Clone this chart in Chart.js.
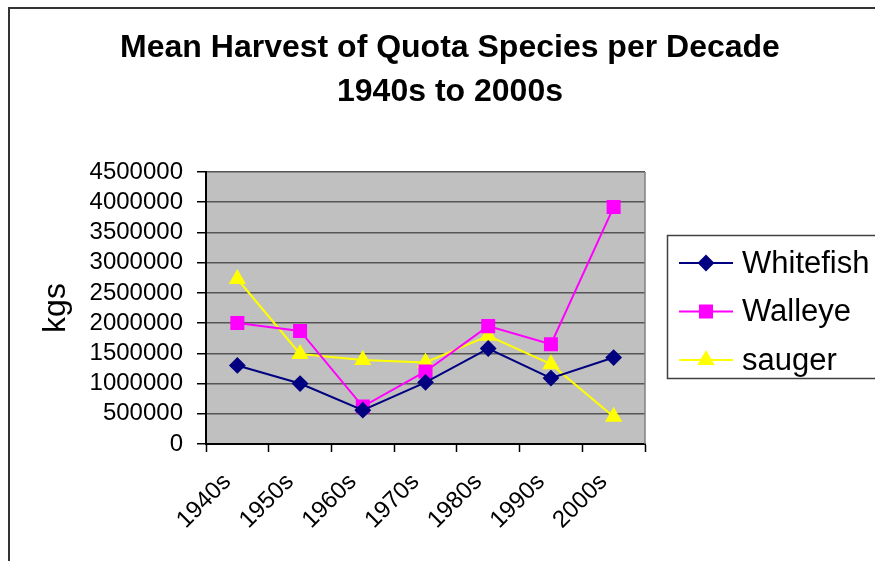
<!DOCTYPE html>
<html>
<head>
<meta charset="utf-8">
<script src="https://cdn.jsdelivr.net/npm/chart.js@4/dist/chart.umd.min.js"></script>
<style>
  html, body { margin: 0; padding: 0; background: #fff; overflow: hidden; }
  #wrap { position: relative; width: 875px; height: 561px; }
</style>
</head>
<body>
<div id="wrap"><canvas id="myChart" width="875" height="561"></canvas></div>
<script>
// data
const decades = ['1940s', '1950s', '1960s', '1970s', '1980s', '1990s', '2000s'];
const whitefish = [1300000, 1000000, 560000, 1020000, 1580000, 1090000, 1430000];
const walleye = [2000000, 1870000, 620000, 1200000, 1950000, 1650000, 3920000];
const sauger = [2730000, 1490000, 1390000, 1350000, 1790000, 1320000, 450000];
const yTicks = [0, 500000, 1000000, 1500000, 2000000, 2500000, 3000000, 3500000, 4000000, 4500000];

const font = 'Arial, "Liberation Sans", sans-serif';

// grey plot area, frame round the whole chart, right border of plot
const backdrop = {
    id: 'backdrop',
    beforeDraw(chart) {
        const ctx = chart.ctx;
        const a = chart.chartArea;
        ctx.save();
        ctx.fillStyle = '#c0c0c0';
        ctx.fillRect(a.left, a.top, a.right - a.left, a.bottom - a.top);
        ctx.strokeStyle = '#333';
        ctx.lineWidth = 2;
        ctx.beginPath();
        ctx.moveTo(9, 600);
        ctx.lineTo(9, 8);
        ctx.lineTo(900, 8);
        ctx.stroke();
        ctx.restore();
    },
    beforeDatasetsDraw(chart) {
        const ctx = chart.ctx;
        const a = chart.chartArea;
        ctx.save();
        ctx.strokeStyle = '#808080';
        ctx.lineWidth = 1.5;
        ctx.beginPath();
        ctx.moveTo(a.right, a.top);
        ctx.lineTo(a.right, a.bottom);
        ctx.stroke();
        ctx.restore();
    }
};

// boxed legend with line + marker, like the spreadsheet one
const boxLegend = {
    id: 'boxLegend',
    afterDraw(chart) {
        const ctx = chart.ctx;
        ctx.save();
        ctx.strokeStyle = '#404040';
        ctx.lineWidth = 1.5;
        ctx.strokeRect(667.5, 235.5, 240, 143);
        chart.data.datasets.forEach((ds, i) => {
            const y = 263 + i * 48.5;
            ctx.strokeStyle = ds.borderColor;
            ctx.lineWidth = 2;
            ctx.beginPath();
            ctx.moveTo(679, y);
            ctx.lineTo(733, y);
            ctx.stroke();
            ctx.fillStyle = ds.backgroundColor;
            Chart.helpers.drawPoint(ctx, {
                pointStyle: ds.pointStyle,
                radius: ds.pointRadius,
                borderWidth: 1,
                rotation: 0
            }, 706, y);
            ctx.fillStyle = '#000';
            ctx.font = '31px ' + font;
            ctx.textBaseline = 'middle';
            ctx.textAlign = 'left';
            ctx.fillText(ds.label, 742, y + 1);
        });
        ctx.restore();
    }
};

new Chart('myChart', {
    type: 'line',
    data: {
        labels: decades,
        datasets: [
            {
                label: 'Whitefish', data: whitefish,
                borderColor: '#000080', backgroundColor: '#000080',
                pointStyle: 'rectRot', pointRadius: 7, borderWidth: 2
            },
            {
                label: 'Walleye', data: walleye,
                borderColor: '#ff00ff', backgroundColor: '#ff00ff',
                pointStyle: 'rect', pointRadius: 8.5, borderWidth: 2
            },
            {
                label: 'sauger', data: sauger,
                borderColor: '#ffff00', backgroundColor: '#ffff00',
                pointStyle: 'triangle', pointRadius: 8, borderWidth: 2
            }
        ]
    },
    options: {
        responsive: false,
        animation: false,
        layout: { padding: { left: 25, right: 0, top: 0, bottom: 0 } },
        elements: { line: { tension: 0 }, point: { borderWidth: 1 } },
        plugins: {
            legend: { display: false },
            tooltip: { enabled: false },
            title: {
                display: true,
                text: ['Mean Harvest of Quota Species per Decade', '1940s to 2000s'],
                color: '#000',
                font: { family: font, size: 32, weight: 'bold', lineHeight: 1.375 },
                padding: { top: 26, bottom: 58 }
            }
        },
        scales: {
            x: {
                offset: true,
                grid: {
                    offset: true, drawOnChartArea: false,
                    tickLength: 8, tickColor: '#000', tickWidth: 1.5
                },
                border: { color: '#000', width: 2 },
                ticks: {
                    color: '#000', font: { family: font, size: 24 },
                    minRotation: 45, maxRotation: 45, padding: 16, labelOffset: -10
                },
                afterFit(s) { s.height = 117; }
            },
            y: {
                min: 0, max: 4500000,
                afterBuildTicks(s) { s.ticks = yTicks.map(v => ({ value: v })); },
                grid: {
                    color: '#555', lineWidth: 1.5,
                    tickLength: 9, tickColor: '#000', tickWidth: 1.5
                },
                border: { color: '#000', width: 2 },
                ticks: {
                    color: '#000', font: { family: font, size: 24 }, padding: 14,
                    autoSkip: false,
                    callback: v => String(v)
                },
                title: {
                    display: true, text: 'kgs', color: '#000',
                    font: { family: font, size: 32 }, padding: { top: 12 }
                },
                afterFit(s) { s.width = 181; }
            },
            pad: {
                type: 'linear', position: 'right', display: true,
                grid: { display: false }, border: { display: false },
                ticks: { display: false },
                afterFit(s) { s.width = 230; }
            }
        }
    },
    plugins: [backdrop, boxLegend]
});
</script>
</body>
</html>
